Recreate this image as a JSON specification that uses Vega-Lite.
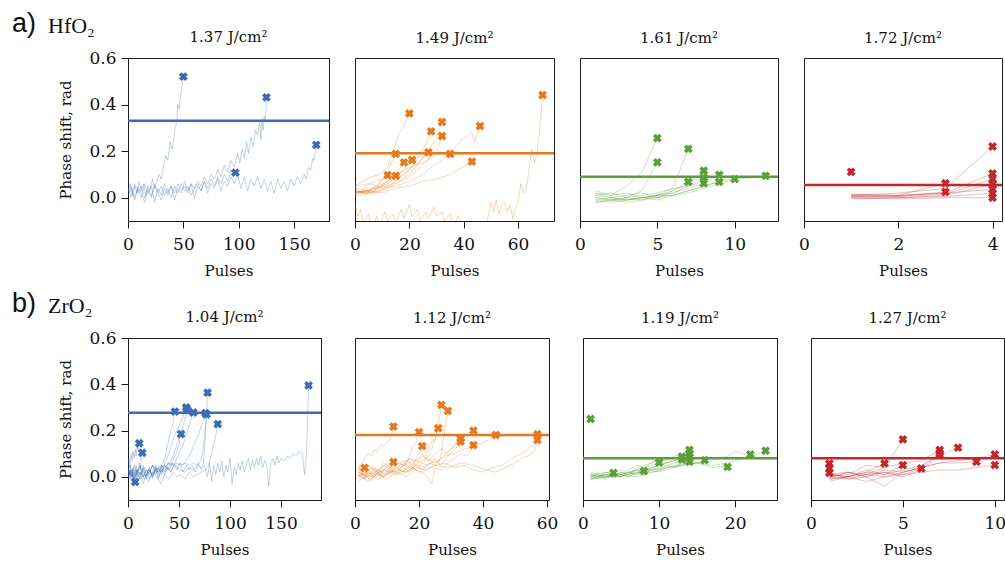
{
"$schema":"https://vega.github.io/schema/vega-lite/v6.json",
"padding":{"left":12,"top":9,"right":0,"bottom":0},
"background":"white",
"config":{
"font":"DejaVu Serif",
"view":{"stroke":"#1a1a1a","strokeWidth":1},
"axis":{"domain":false,"grid":false,"tickColor":"#1a1a1a","tickSize":7,"tickWidth":1,"labelFont":"DejaVu Serif","labelFontSize":17,"labelColor":"#111","labelPadding":5,"labelFlush":false,"titleFont":"DejaVu Serif","titleFontSize":15,"titleFontWeight":"normal","titleColor":"#111"},
"axisX":{"titlePadding":11,"labelPadding":8},
"axisY":{"titlePadding":15},
"title":{"font":"DejaVu Serif","fontSize":15,"fontWeight":"normal","color":"#111","offset":12}
},
"datasets":{
"thr":[{"p":"a1","y":0.331},{"p":"a2","y":0.191},{"p":"a3","y":0.09},{"p":"a4","y":0.055},{"p":"b1","y":0.277},{"p":"b2","y":0.181},{"p":"b3","y":0.08},{"p":"b4","y":0.08}],
"ends":[
{"p":"a1","x":50,"y":0.52},{"p":"a1","x":125,"y":0.431},{"p":"a1","x":97,"y":0.108},{"p":"a1","x":170,"y":0.227},
{"p":"a2","x":20,"y":0.362},{"p":"a2","x":69,"y":0.441},{"p":"a2","x":32,"y":0.325},{"p":"a2","x":28,"y":0.285},{"p":"a2","x":32,"y":0.265},{"p":"a2","x":46,"y":0.308},{"p":"a2","x":15,"y":0.188},{"p":"a2","x":27,"y":0.195},{"p":"a2","x":35,"y":0.188},{"p":"a2","x":18,"y":0.152},{"p":"a2","x":21,"y":0.162},{"p":"a2","x":43,"y":0.155},{"p":"a2","x":12,"y":0.097},{"p":"a2","x":15,"y":0.094},
{"p":"a3","x":5,"y":0.256},{"p":"a3","x":5,"y":0.152},{"p":"a3","x":7,"y":0.21},{"p":"a3","x":7,"y":0.068},{"p":"a3","x":8,"y":0.116},{"p":"a3","x":8,"y":0.087},{"p":"a3","x":8,"y":0.062},{"p":"a3","x":9,"y":0.098},{"p":"a3","x":9,"y":0.068},{"p":"a3","x":10,"y":0.08},{"p":"a3","x":12,"y":0.094},
{"p":"a4","x":1,"y":0.111},{"p":"a4","x":3,"y":0.062},{"p":"a4","x":3,"y":0.025},{"p":"a4","x":4,"y":0.22},{"p":"a4","x":4,"y":0.104},{"p":"a4","x":4,"y":0.08},{"p":"a4","x":4,"y":0.058},{"p":"a4","x":4,"y":0.036},{"p":"a4","x":4,"y":0.019},{"p":"a4","x":4,"y":0.0},
{"p":"b1","x":7,"y":-0.022},{"p":"b1","x":11,"y":0.145},{"p":"b1","x":14,"y":0.104},{"p":"b1","x":46,"y":0.282},{"p":"b1","x":52,"y":0.185},{"p":"b1","x":57,"y":0.3},{"p":"b1","x":58,"y":0.29},{"p":"b1","x":64,"y":0.278},{"p":"b1","x":76,"y":0.275},{"p":"b1","x":77,"y":0.27},{"p":"b1","x":78,"y":0.364},{"p":"b1","x":88,"y":0.228},{"p":"b1","x":177,"y":0.395},
{"p":"b2","x":3,"y":0.039},{"p":"b2","x":12,"y":0.217},{"p":"b2","x":12,"y":0.064},{"p":"b2","x":20,"y":0.193},{"p":"b2","x":21,"y":0.133},{"p":"b2","x":26,"y":0.21},{"p":"b2","x":27,"y":0.311},{"p":"b2","x":29,"y":0.285},{"p":"b2","x":33,"y":0.165},{"p":"b2","x":33,"y":0.152},{"p":"b2","x":37,"y":0.2},{"p":"b2","x":37,"y":0.137},{"p":"b2","x":44,"y":0.181},{"p":"b2","x":57,"y":0.184},{"p":"b2","x":57,"y":0.159},
{"p":"b3","x":1,"y":0.25},{"p":"b3","x":4,"y":0.017},{"p":"b3","x":8,"y":0.025},{"p":"b3","x":10,"y":0.062},{"p":"b3","x":13,"y":0.087},{"p":"b3","x":13,"y":0.075},{"p":"b3","x":14,"y":0.116},{"p":"b3","x":14,"y":0.101},{"p":"b3","x":14,"y":0.087},{"p":"b3","x":14,"y":0.065},{"p":"b3","x":16,"y":0.072},{"p":"b3","x":19,"y":0.043},{"p":"b3","x":22,"y":0.097},{"p":"b3","x":24,"y":0.113},
{"p":"b4","x":1,"y":0.058},{"p":"b4","x":1,"y":0.036},{"p":"b4","x":1,"y":0.017},{"p":"b4","x":4,"y":0.058},{"p":"b4","x":5,"y":0.162},{"p":"b4","x":5,"y":0.051},{"p":"b4","x":6,"y":0.036},{"p":"b4","x":7,"y":0.116},{"p":"b4","x":7,"y":0.104},{"p":"b4","x":7,"y":0.094},{"p":"b4","x":8,"y":0.126},{"p":"b4","x":9,"y":0.065},{"p":"b4","x":10,"y":0.097},{"p":"b4","x":10,"y":0.051}
],
"a1":[
{"r":1,"x":0,"y":0.03},{"r":1,"x":2,"y":0.06},{"r":1,"x":4,"y":0.01},{"r":1,"x":6,"y":0.05},{"r":1,"x":8,"y":0.02},{"r":1,"x":10,"y":0.07},{"r":1,"x":12,"y":0.03},{"r":1,"x":14,"y":0.06},{"r":1,"x":16,"y":0.01},{"r":1,"x":18,"y":0.05},{"r":1,"x":20,"y":0.03},{"r":1,"x":22,"y":0.08},{"r":1,"x":24,"y":0.04},{"r":1,"x":26,"y":0.07},{"r":1,"x":28,"y":0.1},{"r":1,"x":30,"y":0.08},{"r":1,"x":32,"y":0.13},{"r":1,"x":34,"y":0.18},{"r":1,"x":36,"y":0.16},{"r":1,"x":38,"y":0.24},{"r":1,"x":40,"y":0.21},{"r":1,"x":42,"y":0.28},{"r":1,"x":44,"y":0.33},{"r":1,"x":45,"y":0.4},{"r":1,"x":46,"y":0.38},{"r":1,"x":48,"y":0.45},{"r":1,"x":50,"y":0.52},
{"r":2,"x":0,"y":0.02},{"r":2,"x":3,"y":0.05},{"r":2,"x":6,"y":-0.01},{"r":2,"x":9,"y":0.04},{"r":2,"x":12,"y":0.0},{"r":2,"x":15,"y":0.06},{"r":2,"x":18,"y":0.02},{"r":2,"x":21,"y":0.05},{"r":2,"x":24,"y":-0.02},{"r":2,"x":27,"y":0.04},{"r":2,"x":30,"y":0.01},{"r":2,"x":33,"y":0.06},{"r":2,"x":36,"y":0.02},{"r":2,"x":39,"y":0.05},{"r":2,"x":42,"y":-0.01},{"r":2,"x":45,"y":0.04},{"r":2,"x":48,"y":0.02},{"r":2,"x":51,"y":0.07},{"r":2,"x":54,"y":0.03},{"r":2,"x":57,"y":0.06},{"r":2,"x":60,"y":0.0},{"r":2,"x":63,"y":0.05},{"r":2,"x":66,"y":0.03},{"r":2,"x":69,"y":0.07},{"r":2,"x":72,"y":0.02},{"r":2,"x":75,"y":0.06},{"r":2,"x":78,"y":0.04},{"r":2,"x":81,"y":0.08},{"r":2,"x":84,"y":0.03},{"r":2,"x":87,"y":0.07},{"r":2,"x":90,"y":0.05},{"r":2,"x":93,"y":0.09},{"r":2,"x":96,"y":0.06},{"r":2,"x":99,"y":0.1},{"r":2,"x":102,"y":0.04},{"r":2,"x":105,"y":0.09},{"r":2,"x":108,"y":0.03},{"r":2,"x":111,"y":0.08},{"r":2,"x":114,"y":0.05},{"r":2,"x":117,"y":0.09},{"r":2,"x":120,"y":0.04},{"r":2,"x":123,"y":0.08},{"r":2,"x":126,"y":0.03},{"r":2,"x":129,"y":0.07},{"r":2,"x":132,"y":0.02},{"r":2,"x":135,"y":0.08},{"r":2,"x":138,"y":0.04},{"r":2,"x":141,"y":0.07},{"r":2,"x":144,"y":0.03},{"r":2,"x":147,"y":0.08},{"r":2,"x":150,"y":0.05},{"r":2,"x":153,"y":0.09},{"r":2,"x":156,"y":0.06},{"r":2,"x":159,"y":0.1},{"r":2,"x":161,"y":0.08},{"r":2,"x":163,"y":0.13},{"r":2,"x":165,"y":0.12},{"r":2,"x":167,"y":0.17},{"r":2,"x":168,"y":0.16},{"r":2,"x":170,"y":0.227},
{"r":3,"x":0,"y":0.01},{"r":3,"x":3,"y":0.04},{"r":3,"x":6,"y":0.0},{"r":3,"x":9,"y":0.05},{"r":3,"x":12,"y":0.02},{"r":3,"x":15,"y":-0.02},{"r":3,"x":18,"y":0.03},{"r":3,"x":21,"y":0.0},{"r":3,"x":24,"y":0.05},{"r":3,"x":27,"y":0.02},{"r":3,"x":30,"y":-0.01},{"r":3,"x":33,"y":0.04},{"r":3,"x":36,"y":0.01},{"r":3,"x":39,"y":0.05},{"r":3,"x":42,"y":0.02},{"r":3,"x":45,"y":0.06},{"r":3,"x":48,"y":0.03},{"r":3,"x":51,"y":0.05},{"r":3,"x":54,"y":0.02},{"r":3,"x":57,"y":0.06},{"r":3,"x":60,"y":0.04},{"r":3,"x":63,"y":0.07},{"r":3,"x":66,"y":0.05},{"r":3,"x":69,"y":0.09},{"r":3,"x":72,"y":0.06},{"r":3,"x":75,"y":0.1},{"r":3,"x":78,"y":0.08},{"r":3,"x":81,"y":0.12},{"r":3,"x":84,"y":0.09},{"r":3,"x":87,"y":0.14},{"r":3,"x":90,"y":0.11},{"r":3,"x":93,"y":0.16},{"r":3,"x":96,"y":0.13},{"r":3,"x":99,"y":0.19},{"r":3,"x":101,"y":0.15},{"r":3,"x":103,"y":0.21},{"r":3,"x":105,"y":0.17},{"r":3,"x":107,"y":0.24},{"r":3,"x":109,"y":0.19},{"r":3,"x":111,"y":0.26},{"r":3,"x":113,"y":0.22},{"r":3,"x":115,"y":0.29},{"r":3,"x":117,"y":0.27},{"r":3,"x":119,"y":0.33},{"r":3,"x":120,"y":0.25},{"r":3,"x":121,"y":0.34},{"r":3,"x":122,"y":0.29},{"r":3,"x":123,"y":0.35},{"r":3,"x":124,"y":0.33},{"r":3,"x":125,"y":0.431},
{"r":4,"x":0,"y":0.04},{"r":4,"x":3,"y":0.0},{"r":4,"x":6,"y":0.06},{"r":4,"x":9,"y":0.02},{"r":4,"x":12,"y":0.05},{"r":4,"x":15,"y":0.0},{"r":4,"x":18,"y":0.04},{"r":4,"x":21,"y":0.01},{"r":4,"x":24,"y":0.06},{"r":4,"x":27,"y":0.02},{"r":4,"x":30,"y":0.05},{"r":4,"x":33,"y":0.01},{"r":4,"x":36,"y":0.04},{"r":4,"x":39,"y":0.0},{"r":4,"x":42,"y":0.05},{"r":4,"x":45,"y":0.02},{"r":4,"x":48,"y":0.06},{"r":4,"x":51,"y":0.03},{"r":4,"x":54,"y":0.05},{"r":4,"x":57,"y":0.01},{"r":4,"x":60,"y":0.04},{"r":4,"x":63,"y":0.06},{"r":4,"x":66,"y":0.03},{"r":4,"x":69,"y":0.07},{"r":4,"x":72,"y":0.04},{"r":4,"x":75,"y":0.08},{"r":4,"x":78,"y":0.05},{"r":4,"x":81,"y":0.09},{"r":4,"x":84,"y":0.06},{"r":4,"x":87,"y":0.1},{"r":4,"x":90,"y":0.07},{"r":4,"x":93,"y":0.12},{"r":4,"x":95,"y":0.09},{"r":4,"x":97,"y":0.108}
],
"a2":[
{"r":1,"x":0,"y":0.02},{"r":1,"x":2,"y":0.03},{"r":1,"x":4,"y":0.01},{"r":1,"x":6,"y":0.04},{"r":1,"x":8,"y":0.05},{"r":1,"x":10,"y":0.07},{"r":1,"x":12,"y":0.097},
{"r":2,"x":0,"y":0.03},{"r":2,"x":3,"y":0.02},{"r":2,"x":6,"y":0.04},{"r":2,"x":9,"y":0.05},{"r":2,"x":12,"y":0.07},{"r":2,"x":15,"y":0.094},
{"r":3,"x":0,"y":0.04},{"r":3,"x":2,"y":0.02},{"r":3,"x":4,"y":0.05},{"r":3,"x":6,"y":0.06},{"r":3,"x":8,"y":0.05},{"r":3,"x":10,"y":0.08},{"r":3,"x":12,"y":0.1},{"r":3,"x":13,"y":0.14},{"r":3,"x":15,"y":0.188},
{"r":4,"x":0,"y":0.01},{"r":4,"x":3,"y":0.03},{"r":4,"x":6,"y":0.02},{"r":4,"x":9,"y":0.05},{"r":4,"x":12,"y":0.07},{"r":4,"x":14,"y":0.09},{"r":4,"x":16,"y":0.12},{"r":4,"x":18,"y":0.152},
{"r":5,"x":0,"y":0.05},{"r":5,"x":3,"y":0.07},{"r":5,"x":6,"y":0.09},{"r":5,"x":9,"y":0.1},{"r":5,"x":12,"y":0.13},{"r":5,"x":14,"y":0.2},{"r":5,"x":16,"y":0.27},{"r":5,"x":18,"y":0.31},{"r":5,"x":20,"y":0.362},
{"r":6,"x":0,"y":0.02},{"r":6,"x":4,"y":0.03},{"r":6,"x":8,"y":0.04},{"r":6,"x":12,"y":0.06},{"r":6,"x":15,"y":0.09},{"r":6,"x":18,"y":0.12},{"r":6,"x":21,"y":0.162},
{"r":7,"x":0,"y":0.03},{"r":7,"x":4,"y":0.02},{"r":7,"x":8,"y":0.04},{"r":7,"x":12,"y":0.05},{"r":7,"x":16,"y":0.07},{"r":7,"x":20,"y":0.1},{"r":7,"x":23,"y":0.14},{"r":7,"x":25,"y":0.17},{"r":7,"x":27,"y":0.195},
{"r":8,"x":0,"y":0.02},{"r":8,"x":4,"y":0.03},{"r":8,"x":8,"y":0.02},{"r":8,"x":12,"y":0.05},{"r":8,"x":16,"y":0.08},{"r":8,"x":20,"y":0.12},{"r":8,"x":23,"y":0.17},{"r":8,"x":26,"y":0.23},{"r":8,"x":28,"y":0.285},
{"r":9,"x":0,"y":0.04},{"r":9,"x":5,"y":0.03},{"r":9,"x":10,"y":0.05},{"r":9,"x":15,"y":0.08},{"r":9,"x":20,"y":0.12},{"r":9,"x":24,"y":0.16},{"r":9,"x":27,"y":0.2},{"r":9,"x":30,"y":0.26},{"r":9,"x":32,"y":0.325},
{"r":10,"x":0,"y":0.01},{"r":10,"x":5,"y":0.02},{"r":10,"x":10,"y":0.03},{"r":10,"x":15,"y":0.06},{"r":10,"x":20,"y":0.09},{"r":10,"x":24,"y":0.13},{"r":10,"x":28,"y":0.18},{"r":10,"x":30,"y":0.2},{"r":10,"x":32,"y":0.265},
{"r":11,"x":0,"y":0.03},{"r":11,"x":5,"y":0.02},{"r":11,"x":10,"y":0.04},{"r":11,"x":15,"y":0.05},{"r":11,"x":20,"y":0.07},{"r":11,"x":25,"y":0.1},{"r":11,"x":28,"y":0.13},{"r":11,"x":31,"y":0.15},{"r":11,"x":33,"y":0.17},{"r":11,"x":35,"y":0.188},
{"r":12,"x":0,"y":0.02},{"r":12,"x":5,"y":0.03},{"r":12,"x":10,"y":0.02},{"r":12,"x":15,"y":0.04},{"r":12,"x":20,"y":0.05},{"r":12,"x":25,"y":0.07},{"r":12,"x":30,"y":0.08},{"r":12,"x":35,"y":0.1},{"r":12,"x":38,"y":0.12},{"r":12,"x":41,"y":0.14},{"r":12,"x":43,"y":0.155},
{"r":13,"x":0,"y":0.05},{"r":13,"x":5,"y":0.06},{"r":13,"x":10,"y":0.08},{"r":13,"x":15,"y":0.1},{"r":13,"x":20,"y":0.13},{"r":13,"x":25,"y":0.15},{"r":13,"x":28,"y":0.17},{"r":13,"x":31,"y":0.2},{"r":13,"x":34,"y":0.18},{"r":13,"x":37,"y":0.22},{"r":13,"x":39,"y":0.25},{"r":13,"x":41,"y":0.26},{"r":13,"x":43,"y":0.28},{"r":13,"x":44,"y":0.24},{"r":13,"x":46,"y":0.308},
{"r":14,"x":0,"y":-0.03},{"r":14,"x":1,"y":-0.08},{"r":14,"x":2,"y":-0.05},{"r":14,"x":3,"y":-0.11},{"r":14,"x":5,"y":-0.07},{"r":14,"x":6,"y":-0.13},{"r":14,"x":8,"y":-0.08},{"r":14,"x":9,"y":-0.12},{"r":14,"x":11,"y":-0.06},{"r":14,"x":12,"y":-0.1},{"r":14,"x":14,"y":-0.07},{"r":14,"x":15,"y":-0.11},{"r":14,"x":17,"y":-0.05},{"r":14,"x":18,"y":-0.09},{"r":14,"x":20,"y":-0.03},{"r":14,"x":21,"y":-0.08},{"r":14,"x":23,"y":-0.05},{"r":14,"x":24,"y":-0.1},{"r":14,"x":26,"y":-0.06},{"r":14,"x":27,"y":-0.09},{"r":14,"x":29,"y":-0.04},{"r":14,"x":30,"y":-0.08},{"r":14,"x":32,"y":-0.06},{"r":14,"x":33,"y":-0.1},{"r":14,"x":35,"y":-0.07},{"r":14,"x":36,"y":-0.12},{"r":14,"x":38,"y":-0.08},{"r":14,"x":40,"y":-0.13},{"r":14,"x":42,"y":-0.11},{"r":14,"x":44,"y":-0.15},{"r":14,"x":46,"y":-0.12},{"r":14,"x":48,"y":-0.13},{"r":14,"x":49,"y":-0.08},{"r":14,"x":50,"y":-0.02},{"r":14,"x":51,"y":-0.06},{"r":14,"x":52,"y":-0.01},{"r":14,"x":53,"y":-0.07},{"r":14,"x":54,"y":-0.03},{"r":14,"x":55,"y":-0.02},{"r":14,"x":56,"y":-0.06},{"r":14,"x":57,"y":-0.03},{"r":14,"x":58,"y":-0.09},{"r":14,"x":59,"y":-0.04},{"r":14,"x":60,"y":-0.02},{"r":14,"x":61,"y":0.06},{"r":14,"x":62,"y":0.02},{"r":14,"x":63,"y":0.04},{"r":14,"x":64,"y":0.12},{"r":14,"x":65,"y":0.21},{"r":14,"x":66,"y":0.15},{"r":14,"x":67,"y":0.19},{"r":14,"x":68,"y":0.3},{"r":14,"x":69,"y":0.441}
],
"a3":[
{"r":1,"x":1,"y":0.02},{"r":1,"x":2,"y":0.01},{"r":1,"x":3,"y":0.05},{"r":1,"x":4,"y":0.11},{"r":1,"x":5,"y":0.256},
{"r":2,"x":1,"y":0.0},{"r":2,"x":2,"y":-0.01},{"r":2,"x":3,"y":0.0},{"r":2,"x":4,"y":0.03},{"r":2,"x":5,"y":0.152},
{"r":3,"x":1,"y":-0.01},{"r":3,"x":2,"y":0.0},{"r":3,"x":3,"y":-0.01},{"r":3,"x":4,"y":0.0},{"r":3,"x":5,"y":0.01},{"r":3,"x":6,"y":0.04},{"r":3,"x":7,"y":0.21},
{"r":4,"x":1,"y":0.02},{"r":4,"x":2,"y":0.0},{"r":4,"x":3,"y":0.01},{"r":4,"x":4,"y":0.02},{"r":4,"x":5,"y":0.0},{"r":4,"x":6,"y":0.03},{"r":4,"x":7,"y":0.068},
{"r":5,"x":1,"y":-0.02},{"r":5,"x":2,"y":-0.01},{"r":5,"x":3,"y":0.0},{"r":5,"x":4,"y":-0.01},{"r":5,"x":5,"y":0.01},{"r":5,"x":6,"y":0.03},{"r":5,"x":7,"y":0.06},{"r":5,"x":8,"y":0.116},
{"r":6,"x":1,"y":0.01},{"r":6,"x":2,"y":0.02},{"r":6,"x":3,"y":0.0},{"r":6,"x":4,"y":0.01},{"r":6,"x":5,"y":0.02},{"r":6,"x":6,"y":0.04},{"r":6,"x":7,"y":0.05},{"r":6,"x":8,"y":0.087},
{"r":7,"x":1,"y":-0.01},{"r":7,"x":2,"y":-0.02},{"r":7,"x":3,"y":-0.01},{"r":7,"x":4,"y":0.0},{"r":7,"x":5,"y":0.0},{"r":7,"x":6,"y":0.02},{"r":7,"x":7,"y":0.04},{"r":7,"x":8,"y":0.062},
{"r":8,"x":1,"y":0.03},{"r":8,"x":2,"y":0.01},{"r":8,"x":3,"y":0.02},{"r":8,"x":4,"y":0.0},{"r":8,"x":5,"y":0.01},{"r":8,"x":6,"y":0.02},{"r":8,"x":7,"y":0.05},{"r":8,"x":8,"y":0.07},{"r":8,"x":9,"y":0.098},
{"r":9,"x":1,"y":0.0},{"r":9,"x":2,"y":-0.01},{"r":9,"x":3,"y":-0.02},{"r":9,"x":4,"y":-0.01},{"r":9,"x":5,"y":0.0},{"r":9,"x":6,"y":0.01},{"r":9,"x":7,"y":0.03},{"r":9,"x":8,"y":0.05},{"r":9,"x":9,"y":0.068},
{"r":10,"x":1,"y":-0.02},{"r":10,"x":2,"y":-0.01},{"r":10,"x":3,"y":-0.01},{"r":10,"x":4,"y":0.0},{"r":10,"x":5,"y":-0.01},{"r":10,"x":6,"y":0.01},{"r":10,"x":7,"y":0.02},{"r":10,"x":8,"y":0.04},{"r":10,"x":9,"y":0.06},{"r":10,"x":10,"y":0.08},
{"r":11,"x":1,"y":0.01},{"r":11,"x":2,"y":0.0},{"r":11,"x":3,"y":-0.01},{"r":11,"x":4,"y":0.0},{"r":11,"x":5,"y":0.01},{"r":11,"x":6,"y":0.01},{"r":11,"x":7,"y":0.03},{"r":11,"x":8,"y":0.05},{"r":11,"x":9,"y":0.07},{"r":11,"x":10,"y":0.08},{"r":11,"x":11,"y":0.085},{"r":11,"x":12,"y":0.094}
],
"a4":[
{"r":1,"x":1,"y":0.01},{"r":1,"x":2,"y":0.005},{"r":1,"x":3,"y":0.025},
{"r":2,"x":1,"y":0.005},{"r":2,"x":2,"y":0.01},{"r":2,"x":3,"y":0.062},
{"r":3,"x":1,"y":0.01},{"r":3,"x":2,"y":0.02},{"r":3,"x":3,"y":0.04},{"r":3,"x":4,"y":0.22},
{"r":4,"x":1,"y":0.012},{"r":4,"x":2,"y":0.01},{"r":4,"x":3,"y":0.02},{"r":4,"x":4,"y":0.104},
{"r":5,"x":1,"y":0.005},{"r":5,"x":2,"y":0.005},{"r":5,"x":3,"y":0.015},{"r":5,"x":4,"y":0.08},
{"r":6,"x":1,"y":0.0},{"r":6,"x":2,"y":0.0},{"r":6,"x":3,"y":0.01},{"r":6,"x":4,"y":0.058},
{"r":7,"x":1,"y":0.015},{"r":7,"x":2,"y":0.01},{"r":7,"x":3,"y":0.02},{"r":7,"x":4,"y":0.036},
{"r":8,"x":1,"y":-0.005},{"r":8,"x":2,"y":0.0},{"r":8,"x":3,"y":0.005},{"r":8,"x":4,"y":0.019},
{"r":9,"x":1,"y":0.0},{"r":9,"x":2,"y":-0.005},{"r":9,"x":3,"y":0.0},{"r":9,"x":4,"y":0.0}
],
"b1":[
{"r":1,"x":0,"y":0.02},{"r":1,"x":1,"y":-0.01},{"r":1,"x":2,"y":0.03},{"r":1,"x":3,"y":0.0},{"r":1,"x":4,"y":0.02},{"r":1,"x":5,"y":-0.01},{"r":1,"x":6,"y":0.01},{"r":1,"x":7,"y":-0.022},
{"r":2,"x":0,"y":0.05},{"r":2,"x":1,"y":0.08},{"r":2,"x":2,"y":0.04},{"r":2,"x":3,"y":0.1},{"r":2,"x":4,"y":0.07},{"r":2,"x":5,"y":0.11},{"r":2,"x":6,"y":0.08},{"r":2,"x":7,"y":0.12},{"r":2,"x":8,"y":0.09},{"r":2,"x":9,"y":0.13},{"r":2,"x":10,"y":0.11},{"r":2,"x":11,"y":0.145},
{"r":3,"x":0,"y":0.02},{"r":3,"x":2,"y":0.05},{"r":3,"x":3,"y":0.01},{"r":3,"x":5,"y":0.04},{"r":3,"x":6,"y":0.0},{"r":3,"x":8,"y":0.05},{"r":3,"x":9,"y":0.02},{"r":3,"x":11,"y":0.06},{"r":3,"x":12,"y":0.03},{"r":3,"x":13,"y":0.07},{"r":3,"x":14,"y":0.104},
{"r":4,"x":0,"y":0.01},{"r":4,"x":3,"y":0.04},{"r":4,"x":6,"y":-0.01},{"r":4,"x":9,"y":0.03},{"r":4,"x":12,"y":0.0},{"r":4,"x":15,"y":0.05},{"r":4,"x":18,"y":0.01},{"r":4,"x":21,"y":0.04},{"r":4,"x":24,"y":-0.01},{"r":4,"x":27,"y":0.03},{"r":4,"x":30,"y":0.02},{"r":4,"x":33,"y":0.05},{"r":4,"x":36,"y":0.08},{"r":4,"x":38,"y":0.12},{"r":4,"x":40,"y":0.16},{"r":4,"x":42,"y":0.2},{"r":4,"x":44,"y":0.23},{"r":4,"x":46,"y":0.282},
{"r":5,"x":0,"y":0.03},{"r":5,"x":3,"y":0.0},{"r":5,"x":6,"y":0.04},{"r":5,"x":9,"y":0.01},{"r":5,"x":12,"y":0.05},{"r":5,"x":15,"y":0.02},{"r":5,"x":18,"y":-0.01},{"r":5,"x":21,"y":0.03},{"r":5,"x":24,"y":0.0},{"r":5,"x":27,"y":0.04},{"r":5,"x":30,"y":0.01},{"r":5,"x":33,"y":0.05},{"r":5,"x":36,"y":0.02},{"r":5,"x":39,"y":0.06},{"r":5,"x":42,"y":0.05},{"r":5,"x":45,"y":0.08},{"r":5,"x":48,"y":0.11},{"r":5,"x":50,"y":0.14},{"r":5,"x":52,"y":0.185},
{"r":6,"x":0,"y":0.0},{"r":6,"x":3,"y":0.03},{"r":6,"x":6,"y":-0.02},{"r":6,"x":9,"y":0.02},{"r":6,"x":12,"y":0.04},{"r":6,"x":15,"y":0.0},{"r":6,"x":18,"y":0.03},{"r":6,"x":21,"y":0.01},{"r":6,"x":24,"y":0.05},{"r":6,"x":27,"y":0.02},{"r":6,"x":30,"y":0.04},{"r":6,"x":33,"y":0.01},{"r":6,"x":36,"y":0.06},{"r":6,"x":39,"y":0.09},{"r":6,"x":42,"y":0.13},{"r":6,"x":45,"y":0.17},{"r":6,"x":48,"y":0.2},{"r":6,"x":51,"y":0.23},{"r":6,"x":54,"y":0.26},{"r":6,"x":57,"y":0.3},
{"r":7,"x":0,"y":0.02},{"r":7,"x":3,"y":-0.01},{"r":7,"x":6,"y":0.03},{"r":7,"x":9,"y":0.0},{"r":7,"x":12,"y":0.02},{"r":7,"x":15,"y":-0.03},{"r":7,"x":18,"y":0.01},{"r":7,"x":21,"y":0.04},{"r":7,"x":24,"y":0.0},{"r":7,"x":27,"y":0.03},{"r":7,"x":30,"y":-0.01},{"r":7,"x":33,"y":0.04},{"r":7,"x":36,"y":0.02},{"r":7,"x":39,"y":0.05},{"r":7,"x":42,"y":0.07},{"r":7,"x":45,"y":0.1},{"r":7,"x":48,"y":0.14},{"r":7,"x":51,"y":0.18},{"r":7,"x":54,"y":0.22},{"r":7,"x":56,"y":0.25},{"r":7,"x":58,"y":0.29},
{"r":8,"x":0,"y":0.04},{"r":8,"x":3,"y":0.01},{"r":8,"x":6,"y":0.05},{"r":8,"x":9,"y":0.02},{"r":8,"x":12,"y":-0.01},{"r":8,"x":15,"y":0.03},{"r":8,"x":18,"y":0.0},{"r":8,"x":21,"y":0.02},{"r":8,"x":24,"y":0.05},{"r":8,"x":27,"y":0.01},{"r":8,"x":30,"y":0.04},{"r":8,"x":33,"y":0.02},{"r":8,"x":36,"y":0.05},{"r":8,"x":39,"y":0.03},{"r":8,"x":42,"y":0.06},{"r":8,"x":45,"y":0.05},{"r":8,"x":48,"y":0.08},{"r":8,"x":51,"y":0.11},{"r":8,"x":54,"y":0.14},{"r":8,"x":57,"y":0.18},{"r":8,"x":60,"y":0.22},{"r":8,"x":62,"y":0.25},{"r":8,"x":64,"y":0.278},
{"r":9,"x":0,"y":0.0},{"r":9,"x":3,"y":0.02},{"r":9,"x":6,"y":-0.01},{"r":9,"x":9,"y":0.03},{"r":9,"x":12,"y":0.01},{"r":9,"x":15,"y":0.04},{"r":9,"x":18,"y":0.0},{"r":9,"x":21,"y":0.03},{"r":9,"x":24,"y":0.01},{"r":9,"x":27,"y":0.04},{"r":9,"x":30,"y":0.02},{"r":9,"x":33,"y":0.05},{"r":9,"x":36,"y":0.03},{"r":9,"x":39,"y":0.04},{"r":9,"x":42,"y":0.02},{"r":9,"x":45,"y":0.05},{"r":9,"x":48,"y":0.04},{"r":9,"x":51,"y":0.06},{"r":9,"x":54,"y":0.05},{"r":9,"x":57,"y":0.07},{"r":9,"x":60,"y":0.09},{"r":9,"x":63,"y":0.12},{"r":9,"x":66,"y":0.15},{"r":9,"x":69,"y":0.18},{"r":9,"x":72,"y":0.22},{"r":9,"x":74,"y":0.25},{"r":9,"x":76,"y":0.275},
{"r":10,"x":0,"y":0.02},{"r":10,"x":4,"y":0.0},{"r":10,"x":8,"y":0.03},{"r":10,"x":12,"y":0.01},{"r":10,"x":16,"y":0.04},{"r":10,"x":20,"y":0.02},{"r":10,"x":24,"y":0.05},{"r":10,"x":28,"y":0.03},{"r":10,"x":32,"y":0.05},{"r":10,"x":36,"y":0.04},{"r":10,"x":40,"y":0.06},{"r":10,"x":44,"y":0.05},{"r":10,"x":48,"y":0.06},{"r":10,"x":52,"y":0.05},{"r":10,"x":56,"y":0.06},{"r":10,"x":60,"y":0.05},{"r":10,"x":64,"y":0.06},{"r":10,"x":68,"y":0.05},{"r":10,"x":71,"y":0.07},{"r":10,"x":73,"y":0.1},{"r":10,"x":75,"y":0.17},{"r":10,"x":77,"y":0.27},
{"r":11,"x":0,"y":0.01},{"r":11,"x":4,"y":0.03},{"r":11,"x":8,"y":0.0},{"r":11,"x":12,"y":0.02},{"r":11,"x":16,"y":-0.01},{"r":11,"x":20,"y":0.03},{"r":11,"x":24,"y":0.01},{"r":11,"x":28,"y":0.04},{"r":11,"x":32,"y":0.02},{"r":11,"x":36,"y":0.05},{"r":11,"x":40,"y":0.03},{"r":11,"x":44,"y":0.06},{"r":11,"x":48,"y":0.04},{"r":11,"x":52,"y":0.03},{"r":11,"x":56,"y":0.02},{"r":11,"x":60,"y":0.04},{"r":11,"x":64,"y":0.03},{"r":11,"x":68,"y":0.05},{"r":11,"x":72,"y":0.04},{"r":11,"x":74,"y":0.06},{"r":11,"x":75,"y":0.12},{"r":11,"x":76,"y":0.2},{"r":11,"x":77,"y":0.28},{"r":11,"x":78,"y":0.364},
{"r":12,"x":0,"y":0.03},{"r":12,"x":4,"y":0.0},{"r":12,"x":8,"y":0.02},{"r":12,"x":12,"y":-0.01},{"r":12,"x":16,"y":0.01},{"r":12,"x":20,"y":-0.02},{"r":12,"x":24,"y":0.02},{"r":12,"x":28,"y":0.0},{"r":12,"x":32,"y":-0.03},{"r":12,"x":36,"y":0.01},{"r":12,"x":40,"y":-0.01},{"r":12,"x":44,"y":0.02},{"r":12,"x":48,"y":0.0},{"r":12,"x":52,"y":0.01},{"r":12,"x":56,"y":-0.01},{"r":12,"x":60,"y":0.02},{"r":12,"x":64,"y":0.0},{"r":12,"x":68,"y":0.01},{"r":12,"x":72,"y":0.02},{"r":12,"x":76,"y":0.03},{"r":12,"x":79,"y":0.05},{"r":12,"x":82,"y":0.1},{"r":12,"x":84,"y":0.14},{"r":12,"x":86,"y":0.18},{"r":12,"x":88,"y":0.228},
{"r":13,"x":0,"y":0.0},{"r":13,"x":3,"y":0.03},{"r":13,"x":6,"y":-0.02},{"r":13,"x":9,"y":0.02},{"r":13,"x":12,"y":0.05},{"r":13,"x":15,"y":0.0},{"r":13,"x":18,"y":0.03},{"r":13,"x":21,"y":-0.01},{"r":13,"x":24,"y":0.02},{"r":13,"x":27,"y":0.05},{"r":13,"x":30,"y":0.0},{"r":13,"x":33,"y":0.03},{"r":13,"x":36,"y":0.01},{"r":13,"x":39,"y":0.04},{"r":13,"x":42,"y":0.02},{"r":13,"x":45,"y":0.05},{"r":13,"x":48,"y":0.03},{"r":13,"x":51,"y":0.06},{"r":13,"x":54,"y":0.02},{"r":13,"x":57,"y":0.05},{"r":13,"x":60,"y":0.03},{"r":13,"x":63,"y":0.05},{"r":13,"x":66,"y":0.02},{"r":13,"x":69,"y":0.06},{"r":13,"x":72,"y":0.03},{"r":13,"x":75,"y":0.05},{"r":13,"x":78,"y":0.0},{"r":13,"x":80,"y":0.06},{"r":13,"x":82,"y":-0.02},{"r":13,"x":84,"y":0.05},{"r":13,"x":86,"y":0.01},{"r":13,"x":88,"y":0.06},{"r":13,"x":90,"y":0.02},{"r":13,"x":92,"y":0.07},{"r":13,"x":94,"y":0.0},{"r":13,"x":96,"y":0.05},{"r":13,"x":98,"y":0.02},{"r":13,"x":100,"y":0.08},{"r":13,"x":102,"y":-0.03},{"r":13,"x":104,"y":0.04},{"r":13,"x":106,"y":0.01},{"r":13,"x":108,"y":0.06},{"r":13,"x":110,"y":0.03},{"r":13,"x":112,"y":0.07},{"r":13,"x":114,"y":0.02},{"r":13,"x":116,"y":0.05},{"r":13,"x":118,"y":0.08},{"r":13,"x":120,"y":0.03},{"r":13,"x":122,"y":0.07},{"r":13,"x":124,"y":0.04},{"r":13,"x":126,"y":0.08},{"r":13,"x":128,"y":0.05},{"r":13,"x":130,"y":0.09},{"r":13,"x":132,"y":0.04},{"r":13,"x":134,"y":0.07},{"r":13,"x":136,"y":0.05},{"r":13,"x":138,"y":-0.04},{"r":13,"x":140,"y":0.06},{"r":13,"x":142,"y":0.08},{"r":13,"x":144,"y":0.05},{"r":13,"x":146,"y":0.09},{"r":13,"x":148,"y":0.06},{"r":13,"x":150,"y":0.08},{"r":13,"x":153,"y":0.07},{"r":13,"x":156,"y":0.09},{"r":13,"x":159,"y":0.08},{"r":13,"x":162,"y":0.1},{"r":13,"x":165,"y":0.09},{"r":13,"x":168,"y":0.11},{"r":13,"x":171,"y":0.1},{"r":13,"x":173,"y":0.01},{"r":13,"x":175,"y":0.1},{"r":13,"x":177,"y":0.395}
],
"b2":[
{"r":1,"x":1,"y":0.06},{"r":1,"x":2,"y":0.02},{"r":1,"x":3,"y":0.039},
{"r":2,"x":1,"y":0.03},{"r":2,"x":2,"y":0.05},{"r":2,"x":3,"y":0.08},{"r":2,"x":4,"y":0.1},{"r":2,"x":5,"y":0.09},{"r":2,"x":6,"y":0.12},{"r":2,"x":7,"y":0.11},{"r":2,"x":8,"y":0.14},{"r":2,"x":9,"y":0.13},{"r":2,"x":10,"y":0.15},{"r":2,"x":11,"y":0.16},{"r":2,"x":12,"y":0.217},
{"r":3,"x":1,"y":0.0},{"r":3,"x":2,"y":0.02},{"r":3,"x":3,"y":-0.01},{"r":3,"x":4,"y":0.03},{"r":3,"x":5,"y":0.01},{"r":3,"x":6,"y":0.04},{"r":3,"x":7,"y":0.02},{"r":3,"x":8,"y":0.0},{"r":3,"x":9,"y":0.03},{"r":3,"x":10,"y":0.05},{"r":3,"x":11,"y":0.04},{"r":3,"x":12,"y":0.064},
{"r":4,"x":1,"y":0.02},{"r":4,"x":3,"y":0.0},{"r":4,"x":5,"y":0.03},{"r":4,"x":7,"y":0.01},{"r":4,"x":9,"y":0.04},{"r":4,"x":11,"y":0.02},{"r":4,"x":13,"y":0.05},{"r":4,"x":15,"y":0.07},{"r":4,"x":16,"y":0.05},{"r":4,"x":17,"y":0.09},{"r":4,"x":18,"y":0.13},{"r":4,"x":19,"y":0.15},{"r":4,"x":20,"y":0.193},
{"r":5,"x":1,"y":-0.01},{"r":5,"x":3,"y":0.01},{"r":5,"x":5,"y":-0.02},{"r":5,"x":7,"y":0.02},{"r":5,"x":9,"y":0.0},{"r":5,"x":11,"y":0.03},{"r":5,"x":13,"y":0.02},{"r":5,"x":15,"y":0.05},{"r":5,"x":17,"y":0.06},{"r":5,"x":18,"y":0.04},{"r":5,"x":19,"y":0.08},{"r":5,"x":20,"y":0.1},{"r":5,"x":21,"y":0.133},
{"r":6,"x":1,"y":0.03},{"r":6,"x":3,"y":0.01},{"r":6,"x":5,"y":0.04},{"r":6,"x":7,"y":0.02},{"r":6,"x":9,"y":0.05},{"r":6,"x":11,"y":0.03},{"r":6,"x":13,"y":0.06},{"r":6,"x":15,"y":0.05},{"r":6,"x":17,"y":0.08},{"r":6,"x":19,"y":0.07},{"r":6,"x":21,"y":0.1},{"r":6,"x":22,"y":0.08},{"r":6,"x":23,"y":0.12},{"r":6,"x":24,"y":0.15},{"r":6,"x":25,"y":0.17},{"r":6,"x":26,"y":0.21},
{"r":7,"x":1,"y":0.0},{"r":7,"x":3,"y":0.02},{"r":7,"x":5,"y":0.0},{"r":7,"x":7,"y":0.03},{"r":7,"x":9,"y":0.01},{"r":7,"x":11,"y":0.04},{"r":7,"x":13,"y":0.02},{"r":7,"x":15,"y":0.05},{"r":7,"x":17,"y":0.04},{"r":7,"x":19,"y":0.07},{"r":7,"x":21,"y":0.06},{"r":7,"x":23,"y":0.09},{"r":7,"x":24,"y":0.12},{"r":7,"x":25,"y":0.16},{"r":7,"x":26,"y":0.22},{"r":7,"x":27,"y":0.311},
{"r":8,"x":1,"y":0.01},{"r":8,"x":3,"y":-0.01},{"r":8,"x":5,"y":0.02},{"r":8,"x":7,"y":0.0},{"r":8,"x":9,"y":0.03},{"r":8,"x":11,"y":0.01},{"r":8,"x":13,"y":0.04},{"r":8,"x":15,"y":0.02},{"r":8,"x":17,"y":0.05},{"r":8,"x":19,"y":0.03},{"r":8,"x":21,"y":0.06},{"r":8,"x":23,"y":0.05},{"r":8,"x":25,"y":0.08},{"r":8,"x":26,"y":0.06},{"r":8,"x":27,"y":0.1},{"r":8,"x":28,"y":0.2},{"r":8,"x":29,"y":0.285},
{"r":9,"x":1,"y":0.04},{"r":9,"x":3,"y":0.02},{"r":9,"x":5,"y":0.05},{"r":9,"x":7,"y":0.03},{"r":9,"x":9,"y":0.06},{"r":9,"x":11,"y":0.04},{"r":9,"x":13,"y":0.07},{"r":9,"x":15,"y":0.05},{"r":9,"x":17,"y":0.08},{"r":9,"x":19,"y":0.06},{"r":9,"x":21,"y":0.09},{"r":9,"x":23,"y":0.07},{"r":9,"x":25,"y":0.1},{"r":9,"x":27,"y":0.12},{"r":9,"x":29,"y":0.1},{"r":9,"x":31,"y":0.14},{"r":9,"x":33,"y":0.165},
{"r":10,"x":1,"y":-0.02},{"r":10,"x":3,"y":0.0},{"r":10,"x":5,"y":-0.01},{"r":10,"x":7,"y":0.02},{"r":10,"x":9,"y":0.0},{"r":10,"x":11,"y":0.03},{"r":10,"x":13,"y":0.01},{"r":10,"x":15,"y":0.04},{"r":10,"x":17,"y":0.02},{"r":10,"x":19,"y":0.05},{"r":10,"x":21,"y":0.03},{"r":10,"x":23,"y":0.06},{"r":10,"x":25,"y":0.05},{"r":10,"x":27,"y":0.08},{"r":10,"x":29,"y":0.11},{"r":10,"x":31,"y":0.13},{"r":10,"x":33,"y":0.152},
{"r":11,"x":1,"y":0.02},{"r":11,"x":4,"y":0.0},{"r":11,"x":7,"y":0.03},{"r":11,"x":10,"y":0.01},{"r":11,"x":13,"y":0.04},{"r":11,"x":16,"y":0.02},{"r":11,"x":19,"y":0.05},{"r":11,"x":22,"y":0.04},{"r":11,"x":25,"y":0.07},{"r":11,"x":27,"y":0.05},{"r":11,"x":29,"y":0.09},{"r":11,"x":31,"y":0.12},{"r":11,"x":33,"y":0.14},{"r":11,"x":35,"y":0.17},{"r":11,"x":37,"y":0.2},
{"r":12,"x":1,"y":0.01},{"r":12,"x":4,"y":-0.02},{"r":12,"x":7,"y":0.01},{"r":12,"x":10,"y":-0.01},{"r":12,"x":13,"y":0.02},{"r":12,"x":16,"y":0.0},{"r":12,"x":19,"y":0.03},{"r":12,"x":22,"y":0.01},{"r":12,"x":24,"y":-0.03},{"r":12,"x":25,"y":0.04},{"r":12,"x":27,"y":0.03},{"r":12,"x":29,"y":0.06},{"r":12,"x":31,"y":0.08},{"r":12,"x":33,"y":0.1},{"r":12,"x":35,"y":0.09},{"r":12,"x":37,"y":0.137},
{"r":13,"x":1,"y":0.03},{"r":13,"x":4,"y":0.05},{"r":13,"x":7,"y":0.02},{"r":13,"x":10,"y":0.06},{"r":13,"x":13,"y":0.04},{"r":13,"x":16,"y":0.07},{"r":13,"x":19,"y":0.05},{"r":13,"x":22,"y":0.08},{"r":13,"x":25,"y":0.06},{"r":13,"x":28,"y":0.09},{"r":13,"x":31,"y":0.1},{"r":13,"x":34,"y":0.12},{"r":13,"x":37,"y":0.13},{"r":13,"x":40,"y":0.15},{"r":13,"x":42,"y":0.16},{"r":13,"x":44,"y":0.181},
{"r":14,"x":1,"y":0.0},{"r":14,"x":4,"y":0.02},{"r":14,"x":7,"y":-0.01},{"r":14,"x":10,"y":0.01},{"r":14,"x":13,"y":0.03},{"r":14,"x":16,"y":0.02},{"r":14,"x":19,"y":0.04},{"r":14,"x":22,"y":0.03},{"r":14,"x":25,"y":0.05},{"r":14,"x":28,"y":0.06},{"r":14,"x":31,"y":0.04},{"r":14,"x":34,"y":0.05},{"r":14,"x":37,"y":0.03},{"r":14,"x":40,"y":0.02},{"r":14,"x":43,"y":0.04},{"r":14,"x":46,"y":0.05},{"r":14,"x":49,"y":0.08},{"r":14,"x":52,"y":0.1},{"r":14,"x":54,"y":0.12},{"r":14,"x":56,"y":0.14},{"r":14,"x":57,"y":0.184},
{"r":15,"x":1,"y":0.02},{"r":15,"x":5,"y":0.0},{"r":15,"x":9,"y":0.03},{"r":15,"x":13,"y":0.01},{"r":15,"x":17,"y":0.04},{"r":15,"x":21,"y":0.02},{"r":15,"x":25,"y":0.05},{"r":15,"x":29,"y":0.04},{"r":15,"x":33,"y":0.06},{"r":15,"x":37,"y":0.05},{"r":15,"x":41,"y":0.03},{"r":15,"x":44,"y":0.02},{"r":15,"x":47,"y":0.04},{"r":15,"x":50,"y":0.06},{"r":15,"x":52,"y":0.08},{"r":15,"x":54,"y":0.09},{"r":15,"x":56,"y":0.11},{"r":15,"x":57,"y":0.159}
],
"b3":[
{"r":1,"x":1,"y":0.0},{"r":1,"x":2,"y":0.01},{"r":1,"x":3,"y":-0.005},{"r":1,"x":4,"y":0.017},
{"r":2,"x":1,"y":0.01},{"r":2,"x":2,"y":0.0},{"r":2,"x":3,"y":0.02},{"r":2,"x":4,"y":0.005},{"r":2,"x":5,"y":0.01},{"r":2,"x":6,"y":0.0},{"r":2,"x":7,"y":0.015},{"r":2,"x":8,"y":0.025},
{"r":3,"x":1,"y":-0.01},{"r":3,"x":2,"y":0.0},{"r":3,"x":3,"y":0.01},{"r":3,"x":4,"y":0.0},{"r":3,"x":5,"y":0.02},{"r":3,"x":6,"y":0.01},{"r":3,"x":7,"y":0.03},{"r":3,"x":8,"y":0.04},{"r":3,"x":9,"y":0.05},{"r":3,"x":10,"y":0.062},
{"r":4,"x":1,"y":0.01},{"r":4,"x":2,"y":0.005},{"r":4,"x":3,"y":0.0},{"r":4,"x":4,"y":0.02},{"r":4,"x":5,"y":0.03},{"r":4,"x":6,"y":0.01},{"r":4,"x":7,"y":0.04},{"r":4,"x":8,"y":0.05},{"r":4,"x":9,"y":0.06},{"r":4,"x":10,"y":0.07},{"r":4,"x":11,"y":0.06},{"r":4,"x":12,"y":0.08},{"r":4,"x":13,"y":0.087},
{"r":5,"x":1,"y":-0.01},{"r":5,"x":2,"y":-0.005},{"r":5,"x":3,"y":0.01},{"r":5,"x":4,"y":0.0},{"r":5,"x":5,"y":0.0},{"r":5,"x":6,"y":0.02},{"r":5,"x":7,"y":0.01},{"r":5,"x":8,"y":0.03},{"r":5,"x":9,"y":0.04},{"r":5,"x":10,"y":0.05},{"r":5,"x":11,"y":0.06},{"r":5,"x":12,"y":0.07},{"r":5,"x":13,"y":0.075},
{"r":6,"x":1,"y":0.02},{"r":6,"x":2,"y":0.01},{"r":6,"x":3,"y":0.0},{"r":6,"x":4,"y":0.02},{"r":6,"x":5,"y":0.01},{"r":6,"x":6,"y":0.03},{"r":6,"x":7,"y":0.05},{"r":6,"x":8,"y":0.04},{"r":6,"x":9,"y":0.06},{"r":6,"x":10,"y":0.08},{"r":6,"x":11,"y":0.07},{"r":6,"x":12,"y":0.09},{"r":6,"x":13,"y":0.1},{"r":6,"x":14,"y":0.116},
{"r":7,"x":1,"y":0.0},{"r":7,"x":2,"y":0.015},{"r":7,"x":3,"y":0.005},{"r":7,"x":4,"y":0.0},{"r":7,"x":5,"y":0.02},{"r":7,"x":6,"y":0.01},{"r":7,"x":7,"y":0.03},{"r":7,"x":8,"y":0.02},{"r":7,"x":9,"y":0.04},{"r":7,"x":10,"y":0.05},{"r":7,"x":11,"y":0.06},{"r":7,"x":12,"y":0.07},{"r":7,"x":13,"y":0.08},{"r":7,"x":14,"y":0.101},
{"r":8,"x":1,"y":-0.005},{"r":8,"x":2,"y":0.0},{"r":8,"x":3,"y":-0.01},{"r":8,"x":4,"y":0.01},{"r":8,"x":5,"y":0.0},{"r":8,"x":6,"y":0.02},{"r":8,"x":7,"y":0.01},{"r":8,"x":8,"y":0.03},{"r":8,"x":9,"y":0.03},{"r":8,"x":10,"y":0.04},{"r":8,"x":11,"y":0.05},{"r":8,"x":12,"y":0.06},{"r":8,"x":13,"y":0.07},{"r":8,"x":14,"y":0.087},
{"r":9,"x":1,"y":0.005},{"r":9,"x":2,"y":-0.01},{"r":9,"x":3,"y":0.0},{"r":9,"x":4,"y":-0.005},{"r":9,"x":5,"y":0.01},{"r":9,"x":6,"y":0.0},{"r":9,"x":7,"y":0.02},{"r":9,"x":8,"y":0.01},{"r":9,"x":9,"y":0.03},{"r":9,"x":10,"y":0.02},{"r":9,"x":11,"y":0.04},{"r":9,"x":12,"y":0.05},{"r":9,"x":13,"y":0.055},{"r":9,"x":14,"y":0.065},
{"r":10,"x":1,"y":0.01},{"r":10,"x":2,"y":0.0},{"r":10,"x":3,"y":0.02},{"r":10,"x":4,"y":0.01},{"r":10,"x":5,"y":0.0},{"r":10,"x":6,"y":0.02},{"r":10,"x":7,"y":0.03},{"r":10,"x":8,"y":0.01},{"r":10,"x":9,"y":0.04},{"r":10,"x":10,"y":0.03},{"r":10,"x":11,"y":0.05},{"r":10,"x":12,"y":0.04},{"r":10,"x":13,"y":0.06},{"r":10,"x":14,"y":0.07},{"r":10,"x":15,"y":0.06},{"r":10,"x":16,"y":0.072},
{"r":11,"x":1,"y":-0.01},{"r":11,"x":3,"y":0.0},{"r":11,"x":5,"y":0.01},{"r":11,"x":7,"y":0.0},{"r":11,"x":9,"y":0.02},{"r":11,"x":11,"y":0.03},{"r":11,"x":13,"y":0.05},{"r":11,"x":14,"y":0.07},{"r":11,"x":15,"y":0.06},{"r":11,"x":16,"y":0.05},{"r":11,"x":17,"y":0.04},{"r":11,"x":18,"y":0.045},{"r":11,"x":19,"y":0.043},
{"r":12,"x":1,"y":0.0},{"r":12,"x":3,"y":0.01},{"r":12,"x":5,"y":0.0},{"r":12,"x":7,"y":0.02},{"r":12,"x":9,"y":0.03},{"r":12,"x":11,"y":0.04},{"r":12,"x":13,"y":0.05},{"r":12,"x":15,"y":0.06},{"r":12,"x":17,"y":0.07},{"r":12,"x":19,"y":0.09},{"r":12,"x":20,"y":0.11},{"r":12,"x":21,"y":0.1},{"r":12,"x":22,"y":0.097},
{"r":13,"x":1,"y":0.01},{"r":13,"x":3,"y":0.02},{"r":13,"x":5,"y":0.01},{"r":13,"x":7,"y":0.03},{"r":13,"x":9,"y":0.02},{"r":13,"x":11,"y":0.04},{"r":13,"x":13,"y":0.05},{"r":13,"x":15,"y":0.06},{"r":13,"x":17,"y":0.05},{"r":13,"x":19,"y":0.06},{"r":13,"x":20,"y":0.07},{"r":13,"x":21,"y":0.08},{"r":13,"x":22,"y":0.09},{"r":13,"x":23,"y":0.1},{"r":13,"x":24,"y":0.113}
],
"b4":[
{"r":4,"x":1,"y":0.01},{"r":4,"x":2,"y":0.0},{"r":4,"x":3,"y":0.02},{"r":4,"x":4,"y":0.058},
{"r":5,"x":1,"y":0.0},{"r":5,"x":2,"y":0.02},{"r":5,"x":3,"y":0.01},{"r":5,"x":4,"y":0.04},{"r":5,"x":5,"y":0.162},
{"r":6,"x":1,"y":-0.01},{"r":6,"x":2,"y":0.0},{"r":6,"x":3,"y":0.03},{"r":6,"x":4,"y":0.01},{"r":6,"x":5,"y":0.051},
{"r":7,"x":1,"y":0.02},{"r":7,"x":2,"y":-0.01},{"r":7,"x":3,"y":0.0},{"r":7,"x":4,"y":0.02},{"r":7,"x":5,"y":0.01},{"r":7,"x":6,"y":0.036},
{"r":8,"x":1,"y":0.0},{"r":8,"x":2,"y":0.01},{"r":8,"x":3,"y":0.05},{"r":8,"x":4,"y":0.04},{"r":8,"x":5,"y":0.06},{"r":8,"x":6,"y":0.07},{"r":8,"x":7,"y":0.116},
{"r":9,"x":1,"y":-0.005},{"r":9,"x":2,"y":0.02},{"r":9,"x":3,"y":0.0},{"r":9,"x":4,"y":-0.04},{"r":9,"x":5,"y":0.02},{"r":9,"x":6,"y":0.04},{"r":9,"x":7,"y":0.104},
{"r":10,"x":1,"y":0.01},{"r":10,"x":2,"y":0.0},{"r":10,"x":3,"y":0.01},{"r":10,"x":4,"y":0.02},{"r":10,"x":5,"y":0.0},{"r":10,"x":6,"y":0.03},{"r":10,"x":7,"y":0.094},
{"r":11,"x":1,"y":-0.02},{"r":11,"x":2,"y":0.0},{"r":11,"x":3,"y":0.02},{"r":11,"x":4,"y":0.01},{"r":11,"x":5,"y":0.03},{"r":11,"x":6,"y":0.05},{"r":11,"x":7,"y":0.09},{"r":11,"x":8,"y":0.126},
{"r":12,"x":1,"y":0.0},{"r":12,"x":2,"y":-0.01},{"r":12,"x":3,"y":0.01},{"r":12,"x":4,"y":0.0},{"r":12,"x":5,"y":0.02},{"r":12,"x":6,"y":0.04},{"r":12,"x":7,"y":0.06},{"r":12,"x":8,"y":0.06},{"r":12,"x":9,"y":0.065},
{"r":13,"x":1,"y":0.01},{"r":13,"x":2,"y":0.02},{"r":13,"x":3,"y":0.0},{"r":13,"x":4,"y":0.03},{"r":13,"x":5,"y":0.02},{"r":13,"x":6,"y":0.04},{"r":13,"x":7,"y":0.06},{"r":13,"x":8,"y":0.07},{"r":13,"x":9,"y":0.08},{"r":13,"x":10,"y":0.097},
{"r":14,"x":1,"y":-0.01},{"r":14,"x":2,"y":0.0},{"r":14,"x":3,"y":-0.02},{"r":14,"x":4,"y":0.0},{"r":14,"x":5,"y":0.01},{"r":14,"x":6,"y":0.02},{"r":14,"x":7,"y":0.03},{"r":14,"x":8,"y":0.03},{"r":14,"x":9,"y":0.04},{"r":14,"x":10,"y":0.051}
]
},
"spacing":10,
"vconcat":[
{"title":{"text":"a)","font":"Liberation Sans","fontSize":27,"anchor":"start","frame":"group","dx":-116,"dy":23,"offset":0,"color":"#111"},
"hconcat":[{"title":{"text":"HfO₂","font":"Liberation Serif","fontSize":22,"anchor":"start","frame":"group","dx":-80,"offset":-8,"color":"#111"},
"spacing":26,"bounds":"flush",
"hconcat":[
{"width":201,"height":163,"title":{"text":"1.37 J/cm²","anchor":"middle","dy":8},
"encoding":{"y":{"field":"y","type":"quantitative","scale":{"domain":[-0.1,0.6],"nice":false,"zero":false},"axis":{"values":[0,0.2,0.4,0.6],"format":".1f","title":"Phase shift, rad"}}},
"layer":[
{"data":{"name":"a1"},"mark":{"type":"line","color":"#3d6cb3","opacity":0.3,"strokeWidth":1,"clip":true},"encoding":{"x":{"field":"x","type":"quantitative","title":"Pulses","scale":{"domain":[0,181.5],"nice":false,"zero":false},"axis":{"values":[0,50,100,150]}},"detail":{"field":"r","type":"nominal"}}},
{"data":{"name":"thr"},"transform":[{"filter":"datum.p=='a1'"}],"mark":{"type":"rule","color":"#3d6cb3","strokeWidth":2.5},"encoding":{}},
{"data":{"name":"ends"},"transform":[{"filter":"datum.p=='a1'"}],"mark":{"type":"point","shape":"cross","angle":45,"filled":true,"color":"#3d6cb3","opacity":1,"size":80},"encoding":{"x":{"field":"x","type":"quantitative","title":"Pulses"}}}
]},
{"width":199,"height":163,"title":{"text":"1.49 J/cm²","anchor":"middle"},
"encoding":{"y":{"field":"y","type":"quantitative","scale":{"domain":[-0.1,0.6],"nice":false,"zero":false},"axis":null}},
"layer":[
{"data":{"name":"a2"},"mark":{"type":"line","color":"#e6781e","opacity":0.3,"strokeWidth":1,"clip":true},"encoding":{"x":{"field":"x","type":"quantitative","title":"Pulses","scale":{"domain":[0,73.2],"nice":false,"zero":false},"axis":{"values":[0,20,40,60]}},"detail":{"field":"r","type":"nominal"}}},
{"data":{"name":"thr"},"transform":[{"filter":"datum.p=='a2'"}],"mark":{"type":"rule","color":"#e6781e","strokeWidth":2.5},"encoding":{}},
{"data":{"name":"ends"},"transform":[{"filter":"datum.p=='a2'"}],"mark":{"type":"point","shape":"cross","angle":45,"filled":true,"color":"#e6781e","opacity":1,"size":80},"encoding":{"x":{"field":"x","type":"quantitative","title":"Pulses"}}}
]},
{"width":198,"height":163,"title":{"text":"1.61 J/cm²","anchor":"middle"},
"encoding":{"y":{"field":"y","type":"quantitative","scale":{"domain":[-0.1,0.6],"nice":false,"zero":false},"axis":null}},
"layer":[
{"data":{"name":"a3"},"mark":{"type":"line","color":"#5c9e38","opacity":0.3,"strokeWidth":1,"clip":true},"encoding":{"x":{"field":"x","type":"quantitative","title":"Pulses","scale":{"domain":[0,12.8],"nice":false,"zero":false},"axis":{"values":[0,5,10]}},"detail":{"field":"r","type":"nominal"}}},
{"data":{"name":"thr"},"transform":[{"filter":"datum.p=='a3'"}],"mark":{"type":"rule","color":"#5c9e38","strokeWidth":2.5},"encoding":{}},
{"data":{"name":"ends"},"transform":[{"filter":"datum.p=='a3'"}],"mark":{"type":"point","shape":"cross","angle":45,"filled":true,"color":"#5c9e38","opacity":1,"size":80},"encoding":{"x":{"field":"x","type":"quantitative","title":"Pulses"}}}
]},
{"width":198,"height":163,"title":{"text":"1.72 J/cm²","anchor":"middle"},
"encoding":{"y":{"field":"y","type":"quantitative","scale":{"domain":[-0.1,0.6],"nice":false,"zero":false},"axis":null}},
"layer":[
{"data":{"name":"a4"},"mark":{"type":"line","color":"#c2272d","opacity":0.3,"strokeWidth":1,"clip":true},"encoding":{"x":{"field":"x","type":"quantitative","title":"Pulses","scale":{"domain":[0,4.2],"nice":false,"zero":false},"axis":{"values":[0,2,4]}},"detail":{"field":"r","type":"nominal"}}},
{"data":{"name":"thr"},"transform":[{"filter":"datum.p=='a4'"}],"mark":{"type":"rule","color":"#c2272d","strokeWidth":2.5},"encoding":{}},
{"data":{"name":"ends"},"transform":[{"filter":"datum.p=='a4'"}],"mark":{"type":"point","shape":"cross","angle":45,"filled":true,"color":"#c2272d","opacity":1,"size":80},"encoding":{"x":{"field":"x","type":"quantitative","title":"Pulses"}}}
]}
]}]},
{"title":{"text":"b)","font":"Liberation Sans","fontSize":27,"anchor":"start","frame":"group","dx":-116,"dy":23,"offset":0,"color":"#111"},
"hconcat":[{"title":{"text":"ZrO₂","font":"Liberation Serif","fontSize":22,"anchor":"start","frame":"group","dx":-80,"offset":-8,"color":"#111"},
"spacing":34,"bounds":"flush",
"hconcat":[
{"width":193,"height":162,"title":{"text":"1.04 J/cm²","anchor":"middle","dy":8},
"encoding":{"y":{"field":"y","type":"quantitative","scale":{"domain":[-0.1,0.6],"nice":false,"zero":false},"axis":{"values":[0,0.2,0.4,0.6],"format":".1f","title":"Phase shift, rad"}}},
"layer":[
{"data":{"name":"b1"},"mark":{"type":"line","color":"#3d6cb3","opacity":0.3,"strokeWidth":1,"clip":true},"encoding":{"x":{"field":"x","type":"quantitative","title":"Pulses","scale":{"domain":[0,189.2],"nice":false,"zero":false},"axis":{"values":[0,50,100,150]}},"detail":{"field":"r","type":"nominal"}}},
{"data":{"name":"thr"},"transform":[{"filter":"datum.p=='b1'"}],"mark":{"type":"rule","color":"#3d6cb3","strokeWidth":2.5},"encoding":{}},
{"data":{"name":"ends"},"transform":[{"filter":"datum.p=='b1'"}],"mark":{"type":"point","shape":"cross","angle":45,"filled":true,"color":"#3d6cb3","opacity":1,"size":80},"encoding":{"x":{"field":"x","type":"quantitative","title":"Pulses"}}}
]},
{"width":194,"height":162,"title":{"text":"1.12 J/cm²","anchor":"middle"},
"encoding":{"y":{"field":"y","type":"quantitative","scale":{"domain":[-0.1,0.6],"nice":false,"zero":false},"axis":null}},
"layer":[
{"data":{"name":"b2"},"mark":{"type":"line","color":"#e6781e","opacity":0.3,"strokeWidth":1,"clip":true},"encoding":{"x":{"field":"x","type":"quantitative","title":"Pulses","scale":{"domain":[0,60.6],"nice":false,"zero":false},"axis":{"values":[0,20,40,60]}},"detail":{"field":"r","type":"nominal"}}},
{"data":{"name":"thr"},"transform":[{"filter":"datum.p=='b2'"}],"mark":{"type":"rule","color":"#e6781e","strokeWidth":2.5},"encoding":{}},
{"data":{"name":"ends"},"transform":[{"filter":"datum.p=='b2'"}],"mark":{"type":"point","shape":"cross","angle":45,"filled":true,"color":"#e6781e","opacity":1,"size":80},"encoding":{"x":{"field":"x","type":"quantitative","title":"Pulses"}}}
]},
{"width":194,"height":162,"title":{"text":"1.19 J/cm²","anchor":"middle"},
"encoding":{"y":{"field":"y","type":"quantitative","scale":{"domain":[-0.1,0.6],"nice":false,"zero":false},"axis":null}},
"layer":[
{"data":{"name":"b3"},"mark":{"type":"line","color":"#5c9e38","opacity":0.3,"strokeWidth":1,"clip":true},"encoding":{"x":{"field":"x","type":"quantitative","title":"Pulses","scale":{"domain":[0,25.5],"nice":false,"zero":false},"axis":{"values":[0,10,20]}},"detail":{"field":"r","type":"nominal"}}},
{"data":{"name":"thr"},"transform":[{"filter":"datum.p=='b3'"}],"mark":{"type":"rule","color":"#5c9e38","strokeWidth":2.5},"encoding":{}},
{"data":{"name":"ends"},"transform":[{"filter":"datum.p=='b3'"}],"mark":{"type":"point","shape":"cross","angle":45,"filled":true,"color":"#5c9e38","opacity":1,"size":80},"encoding":{"x":{"field":"x","type":"quantitative","title":"Pulses"}}}
]},
{"width":193,"height":162,"title":{"text":"1.27 J/cm²","anchor":"middle"},
"encoding":{"y":{"field":"y","type":"quantitative","scale":{"domain":[-0.1,0.6],"nice":false,"zero":false},"axis":null}},
"layer":[
{"data":{"name":"b4"},"mark":{"type":"line","color":"#c2272d","opacity":0.3,"strokeWidth":1,"clip":true},"encoding":{"x":{"field":"x","type":"quantitative","title":"Pulses","scale":{"domain":[0,10.5],"nice":false,"zero":false},"axis":{"values":[0,5,10]}},"detail":{"field":"r","type":"nominal"}}},
{"data":{"name":"thr"},"transform":[{"filter":"datum.p=='b4'"}],"mark":{"type":"rule","color":"#c2272d","strokeWidth":2.5},"encoding":{}},
{"data":{"name":"ends"},"transform":[{"filter":"datum.p=='b4'"}],"mark":{"type":"point","shape":"cross","angle":45,"filled":true,"color":"#c2272d","opacity":1,"size":80},"encoding":{"x":{"field":"x","type":"quantitative","title":"Pulses"}}}
]}
]}]}
]
}
